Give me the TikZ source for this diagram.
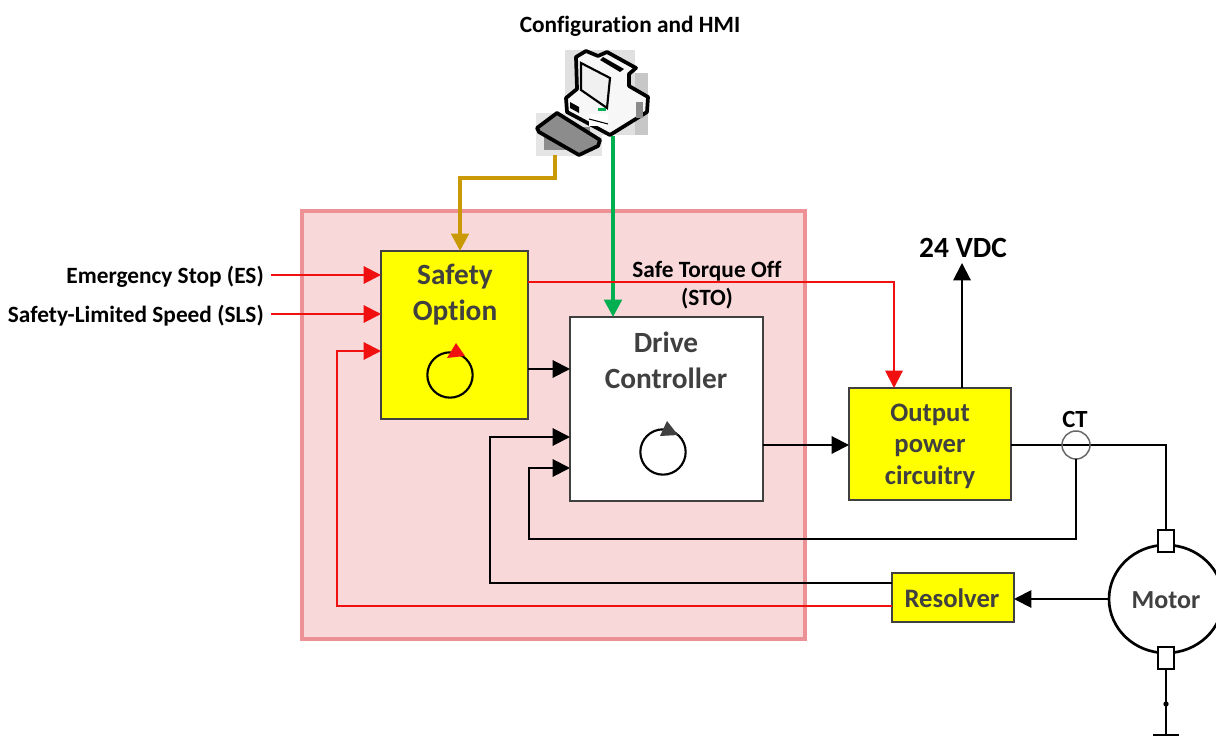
\documentclass[tikz,border=0pt]{standalone}
\usepackage{fontspec}
\setmainfont[Ligatures=NoCommon]{Carlito}
\usetikzlibrary{arrows.meta,calc,shapes.geometric}
\definecolor{pinkfill}{HTML}{F8D8D9}
\definecolor{pinkedge}{HTML}{EC9195}
\definecolor{boxedge}{HTML}{404040}
\definecolor{goldline}{HTML}{C99A06}
\definecolor{greenline}{HTML}{00B050}
\definecolor{redline}{HTML}{F01010}
\definecolor{yelfill}{HTML}{FFFF00}
\tikzset{
  x=0.75pt,y=-0.75pt,
  blockbox/.style={draw=boxedge,line width=1.6pt,inner sep=0pt,outer sep=0pt,anchor=north west},
  yel/.style={blockbox,fill=yelfill},
  boxtext/.style={text=boxedge,font=\bfseries\fontsize{22}{26}\selectfont,align=center,inner sep=0pt},
  yeltext/.style={text=boxedge,font=\bfseries\fontsize{20}{23.6}\selectfont,align=center,inner sep=0pt},
  lab/.style={font=\bfseries\fontsize{17.5}{22}\selectfont,text=black,inner sep=0pt},
  tip/.style={-{Triangle[length=13pt,width=13pt]}},
  wire/.style={draw=black,line width=1.5pt},
  redw/.style={draw=redline,line width=1.5pt},
  blkarrow/.style={wire,tip},
  redarrow/.style={redw,tip},
  pc/.style={draw=black,line width=2.8pt,line join=round},
  patch/.style={fill=#1,draw=none},
  loopc/.style={draw=black,line width=1.6pt,fill=none,outer sep=0pt},
}
\begin{document}
\begin{tikzpicture}
\useasboundingbox (0,0) rectangle (1216,737);
\fill[white] (0,0) rectangle (1216,737);

% safety zone
\node[draw=pinkedge,fill=pinkfill,line width=3.7pt,inner sep=0pt,outer sep=0pt,minimum width=377.25pt,minimum height=321pt,anchor=north west] (zone) at (302,211) {};

% boxes
\node[yel,minimum width=110.25pt,minimum height=126pt] (safety) at (381,251) {};
\node[blockbox,fill=white,minimum width=144.75pt,minimum height=138pt] (drive) at (570,317) {};
\node[yel,minimum width=121.5pt,minimum height=84pt] (output) at (849,388) {};
\node[yel,minimum width=91.5pt,minimum height=36.75pt] (resolver) at (892,573) {};
\node[boxtext] (safetytext) at (455,295) {Safety\\[1pt]Option};
\node[boxtext] (drivetext) at (666,360) {Drive\\[1pt]Controller};
\node[yeltext] (outputtext) at (930,446) {Output\\power\\circuitry};
\node[yeltext] (resolvertext) at (952,598) {Resolver};

% motor
\node[ellipse,draw=black,line width=2pt,fill=white,minimum width=85.5pt,minimum height=81pt,inner sep=0pt,outer sep=0pt] (motor) at (1166,599) {};
\node[text=boxedge,font=\bfseries\fontsize{19.5}{23}\selectfont,inner sep=0pt] (motortext) at (1166,600) {Motor};
\node[draw=black,line width=1.5pt,fill=white,minimum width=12pt,minimum height=16.5pt,inner sep=0pt,outer sep=0pt] (termtop) at (1166,541) {};
\node[draw=black,line width=1.5pt,fill=white,minimum width=12pt,minimum height=16.5pt,inner sep=0pt,outer sep=0pt] (termbot) at (1166,658) {};
\coordinate (gnd) at (1166,735);
\coordinate (gndl) at (1153,735);
\coordinate (gndr) at (1179,735);
\draw[black,line width=0.8pt] (termbot.south) -- (gnd);
\draw[black,line width=1.2pt] (gndl) -- (gndr);
\fill[black] (1166,704) circle (2pt);

% labels
\node[lab,anchor=east] (es) at (264,277) {Emergency Stop (ES)};
\node[lab,anchor=east] (sls) at (264,316) {Safety-Limited Speed (SLS)};
\node[lab,align=center] (sto) at (707,285) {Safe Torque Off\\[-0.8pt](STO)};
\node[lab] (hmi) at (630,26) {Configuration and HMI};
\node[font=\bfseries\fontsize{22}{26}\selectfont,inner sep=0pt] (vdc) at (963,248) {24 VDC};
\node[font=\bfseries\fontsize{18.5}{22}\selectfont,inner sep=0pt] (ctl) at (1075,419) {CT};

% computer
\fill[patch=black!12] (565,50) rectangle (635,135);
\fill[patch=black!22] (635,73) rectangle (648,135);
\fill[patch=black!10] (536,113) rectangle (602,156);
\fill[patch=black!45] (544,127) rectangle (590,150);
\draw[pc,fill=black!3] (576,57) -- (586,51) -- (598,56) -- (607,52) -- (636,68) -- (629,74) -- (629,86) -- (648,97) -- (647,112) -- (610,135) -- (597,128) -- (567,112) -- (566,98) -- (577,89) -- cycle;
\fill[black] (603,57) -- (624,69) -- (620,72) -- (600,60) -- cycle;
\draw[black,line width=1.6pt,fill=black!6] (581,63) -- (610,78) -- (607,108) -- (581,90) -- cycle;
\fill[white] (589,114) rectangle (608,126);
\draw[black,line width=0.8pt] (589,119) -- (608,124);
\fill[black!45] (636,102) rectangle (643,118);
\fill[black] (570,102) -- (579,107) -- (579,113) -- (570,108) -- cycle;
\fill[greenline] (598,108) rectangle (606,111);
\draw[pc,fill=black!45] (537,128) -- (557,113) -- (600,140) -- (598,146) -- (579,155) -- (539,132) -- cycle;
\coordinate (pcbottom) at (613,136);
\coordinate (kbbottom) at (555,155);

% connectors
\draw[draw=goldline,line width=2.8pt,tip] (kbbottom) |- (460,178) -- (safety.north -| 460,0);
\draw[draw=greenline,line width=3pt,tip] (pcbottom) -- (pcbottom |- drive.north);

\coordinate (esstart) at (271,275);
\coordinate (slsstart) at (271,314);
\draw[redarrow] (esstart) -- (esstart -| safety.west);
\draw[redarrow] (slsstart) -- (slsstart -| safety.west);
\draw[redarrow] (resolver.west |- 0,606) -| (337,351) -- (safety.west |- 0,351);
\draw[redarrow] (safety.east |- 0,282) -| (894,282) -- (output.north -| 894,0);

\draw[blkarrow] (safety.east |- 0,369) -- (drive.west |- 0,369);
\draw[blkarrow] (resolver.west |- 0,583) -| (490,437) -- (drive.west |- 0,437);
\draw[blkarrow] (drive.east |- 0,445) -- (output.west |- 0,445);
\draw[blkarrow] (output.north -| 962,0) -- (962,263);
\draw[blkarrow] (motor.west) -- (resolver.east |- motor.west);

% current transformer
\draw[wire] (output.east |- 0,445) -| (termtop.north);
\node[circle,draw=black!60,line width=1.1pt,minimum size=21pt,inner sep=0pt,outer sep=0pt] (ct) at (1076,445) {};
\draw[blkarrow] (ct.south) |- (529,539) |- (drive.west |- 0,468);

% rotation loops
\node[circle,loopc,minimum size=34pt,inner sep=0pt] (loopa) at (450,375) {};
\fill[redline] (456,343) -- (447,358) -- (465,356) -- cycle;
\node[circle,loopc,minimum size=34pt,inner sep=0pt] (loopb) at (663,452) {};
\fill[boxedge] (667,421) -- (660,436) -- (678,435) -- cycle;
\end{tikzpicture}
\end{document}
